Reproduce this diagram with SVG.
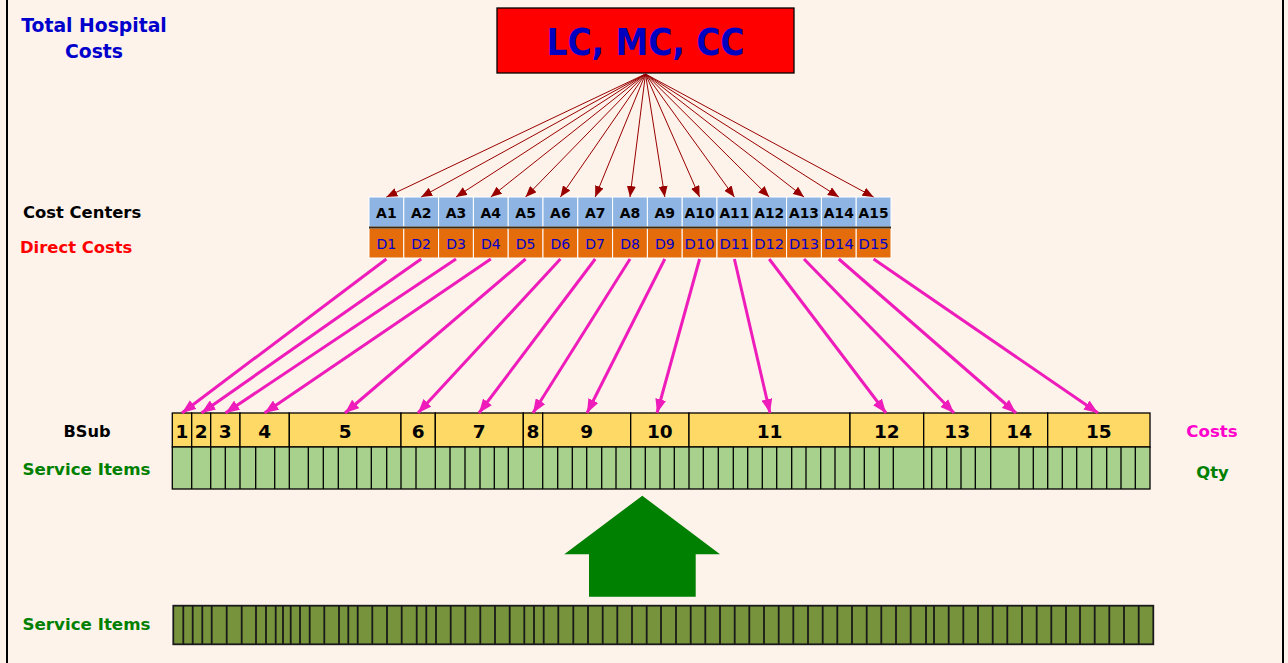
<svg xmlns="http://www.w3.org/2000/svg" width="1288" height="663" viewBox="0 0 1288 663">
<defs>
<style>
.t{font-family:"DejaVu Sans","Liberation Sans",sans-serif;font-weight:bold}
.a{fill:#8DB4E2;stroke:#FFFFFF;stroke-width:1}
.d{fill:#E46C0A;stroke:#FFFFFF;stroke-width:1}
.at{font-family:"DejaVu Sans","Liberation Sans",sans-serif;font-weight:bold;font-size:14px;fill:#000;text-anchor:middle}
.dt{font-family:"DejaVu Sans","Liberation Sans",sans-serif;font-size:14px;fill:#0000CC;text-anchor:middle}
.b{fill:#FFD966;stroke:#000;stroke-width:1.3}
.bt{font-family:"DejaVu Sans","Liberation Sans",sans-serif;font-weight:bold;font-size:18.5px;fill:#000;text-anchor:middle}
.ra{stroke:#990000;stroke-width:1;fill:none;marker-end:url(#rh)}
.ma{stroke:#EE1CBA;stroke-width:3;fill:none;marker-end:url(#mh)}
</style>
<marker id="rh" markerUnits="userSpaceOnUse" markerWidth="11" markerHeight="9" refX="11" refY="4.5" orient="auto"><path d="M0,0 L11,4.5 L0,9 z" fill="#990000"/></marker>
<marker id="mh" markerUnits="userSpaceOnUse" markerWidth="14" markerHeight="11" refX="14" refY="5.5" orient="auto"><path d="M0,0 L14,5.5 L0,11 z" fill="#EE1CBA"/></marker>
</defs>
<rect width="1288" height="663" fill="#FDF3EA"/>
<path d="M7 0V663M1283 0V663" stroke="#000" stroke-width="2"/>

<g id="labels">
<text class="t" x="94" y="32" font-size="18.8" fill="#0000CC" text-anchor="middle">Total Hospital</text>
<text class="t" x="94" y="58" font-size="18.8" fill="#0000CC" text-anchor="middle">Costs</text>
<text class="t" x="23" y="218" font-size="16.4" fill="#000">Cost Centers</text>
<text class="t" x="20" y="252.5" font-size="16.4" fill="#FF0000">Direct Costs</text>
<text class="t" x="87" y="437" font-size="16.2" fill="#000" text-anchor="middle">BSub</text>
<text class="t" x="22.5" y="475" font-size="16.7" fill="#008000">Service Items</text>
<text class="t" x="1212" y="437" font-size="16.6" fill="#FF00CC" text-anchor="middle">Costs</text>
<text class="t" x="1212.5" y="478" font-size="16.4" fill="#008000" text-anchor="middle">Qty</text>
<text class="t" x="22.5" y="630" font-size="16.7" fill="#008000">Service Items</text>
</g>

<g id="title">
<rect x="497" y="8" width="297" height="65" fill="#FF0000" stroke="#000" stroke-width="1.3"/>
<text class="t" x="645.5" y="55" font-size="37" fill="#0000C0" text-anchor="middle" textLength="198" lengthAdjust="spacingAndGlyphs">LC, MC, CC</text>
</g>

<g id="cost-centers">
<g id="cc1"><rect class="a" x="369" y="197" width="34.8" height="30"/><rect class="d" x="369" y="228" width="34.8" height="30"/><text class="at" x="386.4" y="218">A1</text><text class="dt" x="386.4" y="248.5">D1</text></g>
<g id="cc2"><rect class="a" x="403.8" y="197" width="34.8" height="30"/><rect class="d" x="403.8" y="228" width="34.8" height="30"/><text class="at" x="421.2" y="218">A2</text><text class="dt" x="421.2" y="248.5">D2</text></g>
<g id="cc3"><rect class="a" x="438.6" y="197" width="34.8" height="30"/><rect class="d" x="438.6" y="228" width="34.8" height="30"/><text class="at" x="456" y="218">A3</text><text class="dt" x="456" y="248.5">D3</text></g>
<g id="cc4"><rect class="a" x="473.4" y="197" width="34.8" height="30"/><rect class="d" x="473.4" y="228" width="34.8" height="30"/><text class="at" x="490.8" y="218">A4</text><text class="dt" x="490.8" y="248.5">D4</text></g>
<g id="cc5"><rect class="a" x="508.2" y="197" width="34.8" height="30"/><rect class="d" x="508.2" y="228" width="34.8" height="30"/><text class="at" x="525.6" y="218">A5</text><text class="dt" x="525.6" y="248.5">D5</text></g>
<g id="cc6"><rect class="a" x="543" y="197" width="34.8" height="30"/><rect class="d" x="543" y="228" width="34.8" height="30"/><text class="at" x="560.4" y="218">A6</text><text class="dt" x="560.4" y="248.5">D6</text></g>
<g id="cc7"><rect class="a" x="577.8" y="197" width="34.8" height="30"/><rect class="d" x="577.8" y="228" width="34.8" height="30"/><text class="at" x="595.2" y="218">A7</text><text class="dt" x="595.2" y="248.5">D7</text></g>
<g id="cc8"><rect class="a" x="612.6" y="197" width="34.8" height="30"/><rect class="d" x="612.6" y="228" width="34.8" height="30"/><text class="at" x="630" y="218">A8</text><text class="dt" x="630" y="248.5">D8</text></g>
<g id="cc9"><rect class="a" x="647.4" y="197" width="34.8" height="30"/><rect class="d" x="647.4" y="228" width="34.8" height="30"/><text class="at" x="664.8" y="218">A9</text><text class="dt" x="664.8" y="248.5">D9</text></g>
<g id="cc10"><rect class="a" x="682.2" y="197" width="34.8" height="30"/><rect class="d" x="682.2" y="228" width="34.8" height="30"/><text class="at" x="699.6" y="218" textLength="30" lengthAdjust="spacingAndGlyphs">A10</text><text class="dt" x="699.6" y="248.5" textLength="30" lengthAdjust="spacingAndGlyphs">D10</text></g>
<g id="cc11"><rect class="a" x="717" y="197" width="34.8" height="30"/><rect class="d" x="717" y="228" width="34.8" height="30"/><text class="at" x="734.4" y="218" textLength="30" lengthAdjust="spacingAndGlyphs">A11</text><text class="dt" x="734.4" y="248.5" textLength="30" lengthAdjust="spacingAndGlyphs">D11</text></g>
<g id="cc12"><rect class="a" x="751.8" y="197" width="34.8" height="30"/><rect class="d" x="751.8" y="228" width="34.8" height="30"/><text class="at" x="769.2" y="218" textLength="30" lengthAdjust="spacingAndGlyphs">A12</text><text class="dt" x="769.2" y="248.5" textLength="30" lengthAdjust="spacingAndGlyphs">D12</text></g>
<g id="cc13"><rect class="a" x="786.6" y="197" width="34.8" height="30"/><rect class="d" x="786.6" y="228" width="34.8" height="30"/><text class="at" x="804" y="218" textLength="30" lengthAdjust="spacingAndGlyphs">A13</text><text class="dt" x="804" y="248.5" textLength="30" lengthAdjust="spacingAndGlyphs">D13</text></g>
<g id="cc14"><rect class="a" x="821.4" y="197" width="34.8" height="30"/><rect class="d" x="821.4" y="228" width="34.8" height="30"/><text class="at" x="838.8" y="218" textLength="30" lengthAdjust="spacingAndGlyphs">A14</text><text class="dt" x="838.8" y="248.5" textLength="30" lengthAdjust="spacingAndGlyphs">D14</text></g>
<g id="cc15"><rect class="a" x="856.2" y="197" width="34.8" height="30"/><rect class="d" x="856.2" y="228" width="34.8" height="30"/><text class="at" x="873.6" y="218" textLength="30" lengthAdjust="spacingAndGlyphs">A15</text><text class="dt" x="873.6" y="248.5" textLength="30" lengthAdjust="spacingAndGlyphs">D15</text></g>
<path d="M369 227.5H891" stroke="#3A2A12" stroke-width="1.8"/>
</g>

<g id="bsub">
<g id="b1"><rect class="b" x="172.3" y="413" width="19.4" height="34"/><text class="bt" x="182" y="438">1</text></g>
<g id="b2"><rect class="b" x="191.7" y="413" width="19" height="34"/><text class="bt" x="201.2" y="438">2</text></g>
<g id="b3"><rect class="b" x="210.7" y="413" width="29.3" height="34"/><text class="bt" x="225.3" y="438">3</text></g>
<g id="b4"><rect class="b" x="240" y="413" width="49.3" height="34"/><text class="bt" x="264.6" y="438">4</text></g>
<g id="b5"><rect class="b" x="289.3" y="413" width="111.7" height="34"/><text class="bt" x="345.1" y="438">5</text></g>
<g id="b6"><rect class="b" x="401" y="413" width="34.3" height="34"/><text class="bt" x="418.1" y="438">6</text></g>
<g id="b7"><rect class="b" x="435.3" y="413" width="88" height="34"/><text class="bt" x="479.3" y="438">7</text></g>
<g id="b8"><rect class="b" x="523.3" y="413" width="19.4" height="34"/><text class="bt" x="533" y="438">8</text></g>
<g id="b9"><rect class="b" x="542.7" y="413" width="88" height="34"/><text class="bt" x="586.7" y="438">9</text></g>
<g id="b10"><rect class="b" x="630.7" y="413" width="58.3" height="34"/><text class="bt" x="659.8" y="438">10</text></g>
<g id="b11"><rect class="b" x="689" y="413" width="161" height="34"/><text class="bt" x="769.5" y="438">11</text></g>
<g id="b12"><rect class="b" x="850" y="413" width="73.7" height="34"/><text class="bt" x="886.8" y="438">12</text></g>
<g id="b13"><rect class="b" x="923.7" y="413" width="67" height="34"/><text class="bt" x="957.2" y="438">13</text></g>
<g id="b14"><rect class="b" x="990.7" y="413" width="57" height="34"/><text class="bt" x="1019.2" y="438">14</text></g>
<g id="b15"><rect class="b" x="1047.7" y="413" width="102.3" height="34"/><text class="bt" x="1098.8" y="438">15</text></g>
</g>

<g id="service-items">
<rect x="172.3" y="447" width="977.7" height="42" fill="#A9D18E" stroke="#000" stroke-width="1.3"/>
<path stroke="#000" stroke-width="1.3" fill="none" d="M191.7 447V489M210.7 447V489M225.3 447V489M240 447V489M255.7 447V489M274.7 447V489M289.3 447V489M308.3 447V489M323.3 447V489M338.3 447V489M356.7 447V489M371.3 447V489M386.7 447V489M401 447V489M416 447V489M435.3 447V489M450 447V489M465 447V489M480 447V489M494.3 447V489M508.3 447V489M523.3 447V489M542.7 447V489M557.7 447V489M572.3 447V489M586.7 447V489M601.7 447V489M616 447V489M630.7 447V489M645.3 447V489M660 447V489M674.3 447V489M689 447V489M703.3 447V489M718.3 447V489M733.3 447V489M747.7 447V489M762.3 447V489M776.7 447V489M791.7 447V489M806 447V489M820.7 447V489M835 447V489M850 447V489M864.3 447V489M879.3 447V489M893.3 447V489M923.7 447V489M931.7 447V489M946.7 447V489M961 447V489M975.3 447V489M990.7 447V489M1019 447V489M1033.3 447V489M1047.7 447V489M1062.3 447V489M1076.7 447V489M1091.7 447V489M1106.7 447V489M1121 447V489M1135.3 447V489"/>
</g>

<g id="big-arrow">
<polygon points="642.3,495.7 720,554.3 695.7,554.3 695.7,596.7 589,596.7 589,554.3 564.3,554.3" fill="#008000"/>
</g>

<g id="service-items-bottom">
<rect x="173.3" y="605.7" width="980" height="38.6" fill="#77933C" stroke="#1A1A1A" stroke-width="1.8"/>
<path stroke="#1A1A1A" stroke-width="1.8" fill="none" d="M183.3 606V644M192.7 606V644M202.3 606V644M211.7 606V644M226.7 606V644M241.7 606V644M256 606V644M266 606V644M275.7 606V644M283 606V644M290.7 606V644M300 606V644M309.7 606V644M324.3 606V644M339 606V644M348.3 606V644M357.7 606V644M372.3 606V644M387 606V644M401.7 606V644M416.7 606V644M426.3 606V644M436 606V644M450.7 606V644M465.3 606V644M480.3 606V644M495 606V644M509.7 606V644M524.3 606V644M534 606V644M543.7 606V644M558.3 606V644M573.3 606V644M588 606V644M602.7 606V644M617.3 606V644M632 606V644M646.7 606V644M661 606V644M676 606V644M690.7 606V644M705.3 606V644M720 606V644M734.7 606V644M749.3 606V644M764 606V644M778.7 606V644M793.3 606V644M808 606V644M822.7 606V644M837.3 606V644M852 606V644M866.7 606V644M881.3 606V644M896 606V644M910.7 606V644M926 606V644M934 606V644M948.7 606V644M963.3 606V644M978 606V644M992.7 606V644M1007.3 606V644M1022 606V644M1036.7 606V644M1051.3 606V644M1066 606V644M1080 606V644M1094.7 606V644M1109.3 606V644M1124 606V644M1138.7 606V644"/>
</g>

<g id="connectors">
<path class="ra" d="M645.5 74L386.4 197"/>
<path class="ra" d="M645.5 74L421.2 197"/>
<path class="ra" d="M645.5 74L456 197"/>
<path class="ra" d="M645.5 74L490.8 197"/>
<path class="ra" d="M645.5 74L525.6 197"/>
<path class="ra" d="M645.5 74L560.4 197"/>
<path class="ra" d="M645.5 74L595.2 197"/>
<path class="ra" d="M645.5 74L630 197"/>
<path class="ra" d="M645.5 74L664.8 197"/>
<path class="ra" d="M645.5 74L699.6 197"/>
<path class="ra" d="M645.5 74L734.4 197"/>
<path class="ra" d="M645.5 74L769.2 197"/>
<path class="ra" d="M645.5 74L804 197"/>
<path class="ra" d="M645.5 74L838.8 197"/>
<path class="ra" d="M645.5 74L873.6 197"/>
<path class="ma" d="M386.4 259L182 413"/>
<path class="ma" d="M421.2 259L201.5 413"/>
<path class="ma" d="M456 259L225.5 413"/>
<path class="ma" d="M490.8 259L264.5 413"/>
<path class="ma" d="M525.6 259L345 413"/>
<path class="ma" d="M560.4 259L418 413"/>
<path class="ma" d="M595.2 259L479 413"/>
<path class="ma" d="M630 259L533 413"/>
<path class="ma" d="M664.8 259L587 413"/>
<path class="ma" d="M699.6 259L657 413"/>
<path class="ma" d="M734.4 259L770 413"/>
<path class="ma" d="M769.2 259L886 413"/>
<path class="ma" d="M804 259L954 413"/>
<path class="ma" d="M838.8 259L1016 413"/>
<path class="ma" d="M873.6 259L1098 413"/>
</g>
</svg>
